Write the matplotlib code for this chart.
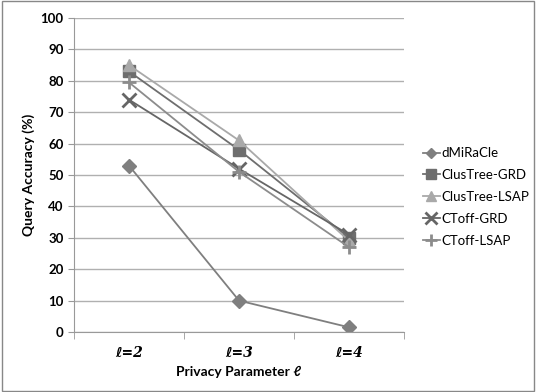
import matplotlib.pyplot as plt

plt.rcParams['font.family'] = ['Lato', 'DejaVu Sans']

categories = ["ℓ=2", "ℓ=3", "ℓ=4"]
dmiracle = [53, 10, 1.5]
clustree_grd = [83, 58, 30]
clustree_lsap = [85, 61, 29]
ctoff_grd = [74, 52, 31]
ctoff_lsap = [79.5, 51, 27]

series = [
    ("dMiRaCle", dmiracle, "D", "#7f7f7f", 7),
    ("ClusTree-GRD", clustree_grd, "s", "#6e6e6e", 9),
    ("ClusTree-LSAP", clustree_lsap, "^", "#a9a9a9", 9),
    ("CToff-GRD", ctoff_grd, "x", "#666666", 10),
    ("CToff-LSAP", ctoff_lsap, "+", "#8c8c8c", 10),
]

fig = plt.figure(figsize=(5.36, 3.92), dpi=100)
ax = fig.add_axes([0.138, 0.153, 0.616, 0.801])

x = list(range(len(categories)))
for name, vals, mk, col, ms in series:
    ax.plot(x, vals, color=col, marker=mk, markersize=ms, linewidth=1.3,
            markeredgewidth=2 if mk in "x+" else 1, label=name)

ax.set_xlim(-0.5, 2.5)
ax.set_ylim(0, 100)
ax.set_yticks(range(0, 101, 10))
ax.yaxis.grid(True, color="#b0b0b0", linewidth=1)
ax.set_axisbelow(True)
ax.set_xticks(x)
ax.set_xticklabels(categories, family=["DejaVu Serif", "DejaVu Sans"], style="italic",
                   fontsize=10, fontweight="bold")
ax.tick_params(axis="x", length=0, pad=10)
ax.set_xticks([-0.5, 0.5, 1.5, 2.5], minor=True)
ax.tick_params(axis="x", which="minor", length=5, color="#999999")
ax.tick_params(axis="y", length=4, color="#999999", labelsize=9.5)
for lab in ax.get_yticklabels():
    lab.set_fontweight("bold")

for s in ["top", "right"]:
    ax.spines[s].set_visible(False)
for s in ["left", "bottom"]:
    ax.spines[s].set_color("#999999")

ax.set_ylabel("Query Accuracy (%)", fontsize=10, fontweight="bold")
ax.set_xlabel("Privacy Parameter ℓ", fontsize=10, fontweight="bold", labelpad=4)

ax.legend(loc="center left", bbox_to_anchor=(1.02, 0.43), frameon=False,
          fontsize=9.5, handlelength=1.3, handletextpad=0.1, labelspacing=0.75,
          markerscale=0.8)

fig.patches.append(plt.Rectangle((0.003, 0.003), 0.994, 0.994, transform=fig.transFigure,
                                 fill=False, edgecolor="#888888", linewidth=1))

fig.savefig("out.png", dpi=100)
